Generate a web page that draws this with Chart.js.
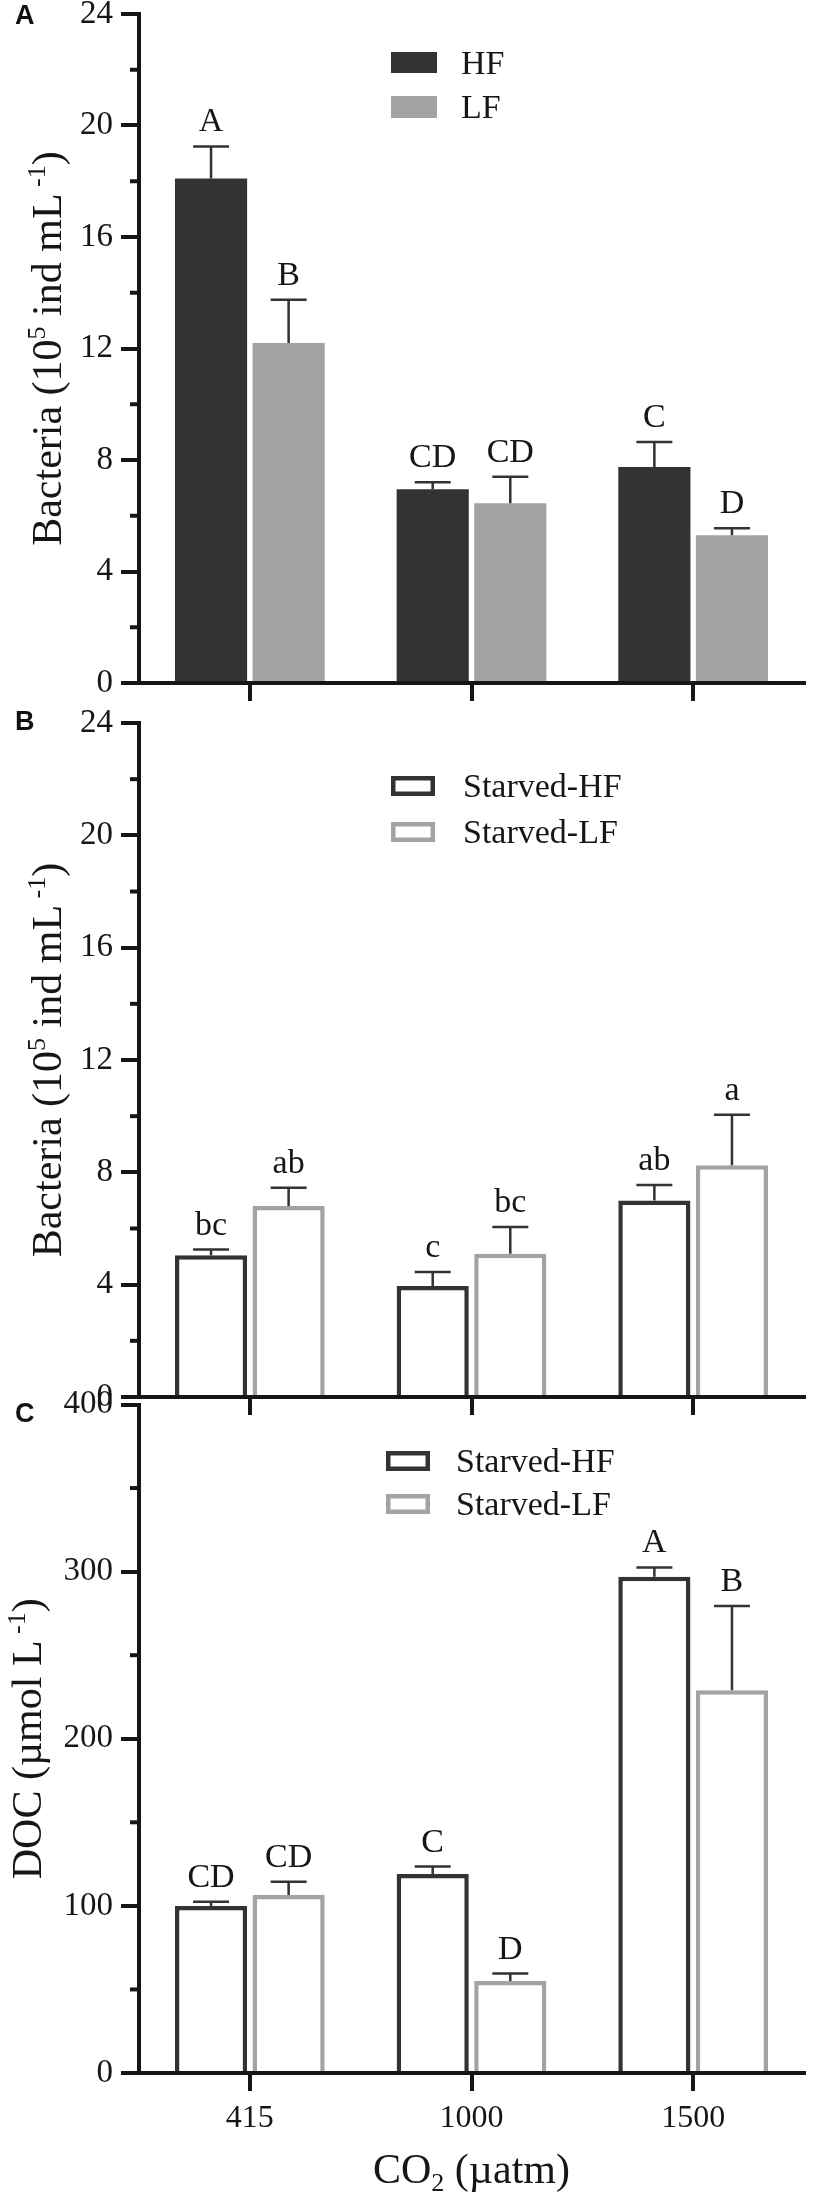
<!DOCTYPE html>
<html>
<head>
<meta charset="utf-8">
<script src="https://cdn.jsdelivr.net/npm/chart.js@4.4.1/dist/chart.umd.min.js"></script>
<style>
  body { margin: 0; background: #fff; }
  #page { position: relative; width: 816px; height: 2198px; overflow: hidden; }
  canvas { position: absolute; left: 0; }
</style>
</head>
<body>
<div id="page">
  <canvas id="panelA" width="816" height="720" style="top:0px;width:816px;height:720px"></canvas>
  <canvas id="panelB" width="816" height="720" style="top:700px;width:816px;height:720px"></canvas>
  <canvas id="panelC" width="816" height="818" style="top:1380px;width:816px;height:818px"></canvas>
</div>
<script>
const co2Levels = ["415", "1000", "1500"];

/* A: fed copepods, bacteria (10^5 ind/mL) */
const bactHF = [18.1, 6.95, 7.75];
const bactHFErr = [1.15, 0.25, 0.9];
const bactLF = [12.2, 6.45, 5.3];
const bactLFErr = [1.55, 0.95, 0.25];
const bactHFLetters = ["A", "CD", "C"];
const bactLFLetters = ["B", "CD", "D"];

/* B: starved copepods, bacteria */
const starvHF = [5.05, 3.95, 7.0];
const starvHFErr = [0.2, 0.5, 0.55];
const starvLF = [6.8, 5.1, 8.25];
const starvLFErr = [0.65, 0.95, 1.8];
const starvHFLetters = ["bc", "c", "ab"];
const starvLFLetters = ["ab", "bc", "a"];

/* C: starved copepods, DOC (umol/L) */
const docHF = [100, 119, 297];
const docHFErr = [2.5, 4.5, 5.5];
const docLF = [106.5, 55, 229];
const docLFErr = [8, 4.5, 50.5];
const docHFLetters = ["CD", "C", "A"];
const docLFLetters = ["CD", "D", "B"];

const bactTicks = [0, 4, 8, 12, 16, 20, 24];
const docTicks = [0, 100, 200, 300, 400];

const INK = "#161616";
const DARK = "#333333";
const GREY = "#a3a3a6";
const SERIF = "'Liberation Serif', 'Times New Roman', serif";

Chart.defaults.font.family = SERIF;

/* text with super/subscripts: segs = [[text, 0 | 1 sup | -1 sub]] */
function richWidth(ctx, segs, size) {
  let w = 0;
  segs.forEach(([t, m]) => {
    ctx.font = `${m ? size * 0.62 : size}px ${SERIF}`;
    w += ctx.measureText(t).width;
  });
  return w;
}

function drawRich(ctx, segs, size, x, y) {
  ctx.textAlign = "left";
  ctx.textBaseline = "alphabetic";
  segs.forEach(([t, m]) => {
    ctx.font = `${m ? size * 0.62 : size}px ${SERIF}`;
    const dy = m === 1 ? -size * 0.38 : m === -1 ? size * 0.2 : 0;
    ctx.fillText(t, x, y + dy);
    x += ctx.measureText(t).width;
  });
}

function decor(cfg) {
  return {
    id: "decor",
    afterDraw(chart) {
      const ctx = chart.ctx;
      const y = chart.scales.y;
      const area = chart.chartArea;
      ctx.save();

      /* minor ticks on y */
      ctx.strokeStyle = INK;
      ctx.lineWidth = 4;
      for (let v = cfg.minor; v < y.max; v += cfg.minor * 2) {
        const py = y.getPixelForValue(v);
        ctx.beginPath();
        ctx.moveTo(area.left - 9, py);
        ctx.lineTo(area.left, py);
        ctx.stroke();
      }

      /* error bars and letters */
      chart.data.datasets.forEach((ds, d) => {
        const meta = chart.getDatasetMeta(d);
        meta.data.forEach((bar, i) => {
          const base = y.getPixelForValue(ds.data[i]);
          const top = y.getPixelForValue(ds.data[i] + cfg.errors[d][i]);
          ctx.strokeStyle = DARK;
          ctx.lineWidth = 2.5;
          ctx.beginPath();
          ctx.moveTo(bar.x, base);
          ctx.lineTo(bar.x, top);
          ctx.moveTo(bar.x - 18, top);
          ctx.lineTo(bar.x + 18, top);
          ctx.stroke();

          ctx.fillStyle = INK;
          ctx.font = `34px ${SERIF}`;
          ctx.textAlign = "center";
          ctx.textBaseline = "alphabetic";
          ctx.fillText(cfg.letters[d][i], bar.x, top - 15);
        });
      });

      /* legend */
      const lg = cfg.legend;
      chart.data.datasets.forEach((ds, d) => {
        const [ty, th] = lg.rows[d];
        if (cfg.outline) {
          ctx.strokeStyle = ds.borderColor;
          ctx.lineWidth = 4.5;
          ctx.strokeRect(lg.x + 2.25, ty + 2.25, lg.w - 4.5, th - 4.5);
        } else {
          ctx.fillStyle = ds.backgroundColor;
          ctx.fillRect(lg.x, ty, lg.w, th);
        }
        ctx.fillStyle = INK;
        ctx.font = `34px ${SERIF}`;
        ctx.textAlign = "left";
        ctx.textBaseline = "alphabetic";
        ctx.fillText(ds.label, lg.textX, ty + th / 2 + 11);
      });

      /* panel letter */
      ctx.fillStyle = "#111";
      ctx.font = "bold 27px 'Liberation Sans', Arial, sans-serif";
      ctx.textAlign = "left";
      ctx.fillText(cfg.panel[0], 15, cfg.panel[1]);

      /* y title, rotated */
      const ts = 42;
      const tw = richWidth(ctx, cfg.yTitle, ts);
      ctx.save();
      ctx.fillStyle = INK;
      ctx.translate(cfg.yTitleX, (area.top + area.bottom) / 2);
      ctx.rotate(-Math.PI / 2);
      drawRich(ctx, cfg.yTitle, ts, -tw / 2, 0);
      ctx.restore();

      /* x title */
      if (cfg.xTitle) {
        const xw = richWidth(ctx, cfg.xTitle, ts);
        ctx.fillStyle = INK;
        drawRich(ctx, cfg.xTitle, ts, (area.left + area.right) / 2 - xw / 2, cfg.xTitleY);
      }
      ctx.restore();
    }
  };
}

function makePanel(id, opt) {
  const outline = opt.outline;
  const datasets = [
    {
      label: opt.labels[0],
      data: opt.hf,
      backgroundColor: outline ? "#ffffff" : DARK,
      borderColor: DARK,
      borderWidth: outline ? 4.5 : 0
    },
    {
      label: opt.labels[1],
      data: opt.lf,
      backgroundColor: outline ? "#ffffff" : GREY,
      borderColor: GREY,
      borderWidth: outline ? 4.5 : 0
    }
  ];

  new Chart(document.getElementById(id), {
    type: "bar",
    data: { labels: co2Levels, datasets: datasets },
    options: {
      responsive: false,
      animation: false,
      devicePixelRatio: 1,
      categoryPercentage: 0.7,
      barPercentage: 0.93,
      layout: { padding: { top: opt.padTop, right: 12, left: 0, bottom: 0 } },
      plugins: { legend: { display: false }, tooltip: { enabled: false } },
      scales: {
        x: {
          z: 1,
          offset: true,
          grid: {
            offset: false,
            drawOnChartArea: false,
            drawTicks: true,
            tickLength: 18,
            lineWidth: 4,
            color: INK
          },
          border: { display: true, width: 4, color: INK },
          ticks: {
            display: opt.showX,
            padding: 8,
            color: INK,
            font: { family: SERIF, size: 32 }
          },
          afterFit(scale) {
            scale.height = opt.xHeight;
            scale.paddingLeft = 0;
            scale.paddingRight = 0;
          }
        },
        y: {
          z: 1,
          min: 0,
          max: opt.ticks[opt.ticks.length - 1],
          grid: {
            drawOnChartArea: false,
            drawTicks: true,
            tickLength: 18,
            lineWidth: 4,
            color: INK
          },
          border: { display: true, width: 4, color: INK },
          ticks: {
            padding: 8,
            color: INK,
            font: { family: SERIF, size: 33 }
          },
          afterBuildTicks(scale) {
            scale.ticks = opt.ticks.map(v => ({ value: v }));
          },
          afterFit(scale) {
            scale.width = 139;
            scale.paddingTop = 0;
            scale.paddingBottom = 0;
          }
        }
      }
    },
    plugins: [decor(opt.decor)]
  });
}

const bactTitle = [["Bacteria (10", 0], ["5", 1], [" ind mL", 0], [" -1", 1], [")", 0]];

makePanel("panelA", {
  hf: bactHF, lf: bactLF, labels: ["HF", "LF"], outline: false,
  ticks: bactTicks, padTop: 14, xHeight: 37, showX: false,
  decor: {
    minor: 2, outline: false,
    errors: [bactHFErr, bactLFErr],
    letters: [bactHFLetters, bactLFLetters],
    legend: { x: 391, w: 46, textX: 461, rows: [[52, 21], [96, 22]] },
    panel: ["A", 24],
    yTitle: bactTitle, yTitleX: 61
  }
});

makePanel("panelB", {
  hf: starvHF, lf: starvLF, labels: ["Starved-HF", "Starved-LF"], outline: true,
  ticks: bactTicks, padTop: 23, xHeight: 23, showX: false,
  decor: {
    minor: 2, outline: true,
    errors: [starvHFErr, starvLFErr],
    letters: [starvHFLetters, starvLFLetters],
    legend: { x: 391, w: 44, textX: 463, rows: [[76, 20], [122, 20]] },
    panel: ["B", 30],
    yTitle: bactTitle, yTitleX: 61
  }
});

makePanel("panelC", {
  hf: docHF, lf: docLF, labels: ["Starved-HF", "Starved-LF"], outline: true,
  ticks: docTicks, padTop: 24.5, xHeight: 125, showX: true,
  decor: {
    minor: 50, outline: true,
    errors: [docHFErr, docLFErr],
    letters: [docHFLetters, docLFLetters],
    legend: { x: 386, w: 44, textX: 456, rows: [[71, 20], [114, 20]] },
    panel: ["C", 42],
    yTitle: [["DOC (\u00b5mol L", 0], [" -1", 1], [")", 0]], yTitleX: 41,
    xTitle: [["CO", 0], ["2", -1], [" (\u00b5atm)", 0]], xTitleY: 803
  }
});
</script>
</body>
</html>
